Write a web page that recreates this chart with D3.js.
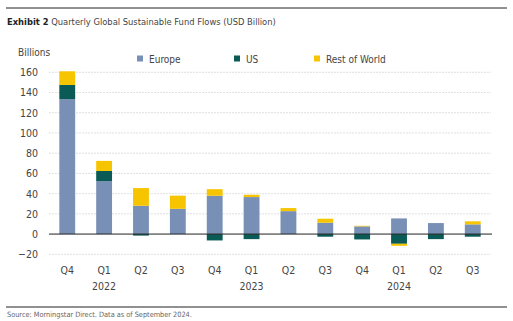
<!DOCTYPE html>
<html>
<head>
<meta charset="utf-8">
<script src="https://cdn.jsdelivr.net/npm/d3@7"></script>
<style>
  body { margin: 0; background: #fff; }
  svg text { font-family: "Liberation Sans Narrow", "Arial Narrow", "DejaVu Sans Condensed", sans-serif; fill: #444; }
</style>
</head>
<body>
<svg id="chart" width="513" height="321"></svg>
<script>
const quarters = ['Q4', 'Q1', 'Q2', 'Q3', 'Q4', 'Q1', 'Q2', 'Q3', 'Q4', 'Q1', 'Q2', 'Q3'];
const years = ['', '2022', '', '', '', '2023', '', '', '', '2024', '', ''];
const europe = [133.5, 52.4, 28, 25, 37.9, 36.6, 22.7, 11.2, 7.6, 15.5, 10.9, 9.6];
const us = [14, 10, -1.5, 0, -6.3, -5, 0, -2.6, -5.3, -9.6, -5, -2.6];
const rest = [13.5, 10, 17.5, 13, 6.5, 2.3, 3, 4, 0.6, -2, 0, 3];
const seriesNames = ['Europe', 'US', 'Rest of World'];
const yTicks = [-20, 0, 20, 40, 60, 80, 100, 120, 140, 160];

const colors = d3.scaleOrdinal()
  .domain(seriesNames)
  .range(['#7990b6', '#0a5a55', '#f7c400']);

const svg = d3.select('#chart');
const m = {l: 49, r: 22};
const W = 513;

const rows = quarters.map((q, i) => ({
  key: i,
  'Europe': europe[i],
  'US': us[i],
  'Rest of World': rest[i]
}));

const x = d3.scaleBand()
  .domain(d3.range(quarters.length))
  .range([m.l, W - m.r])
  .paddingInner(0.57)
  .paddingOuter(0.28);

// -20 sits on the bottom gridline, 160 on the top one
const y = d3.scaleLinear().domain([-20, 160]).range([254.3, 72.3]);

// top rule + title
svg.append('line').attr('x1', 6).attr('x2', 507).attr('y1', 8).attr('y2', 8)
  .attr('stroke', '#222').attr('stroke-width', 1);
const title = svg.append('text').attr('x', 7).attr('y', 25).style('font-size', '9.3px');
title.append('tspan').attr('font-weight', 'bold').style('fill', '#222').text('Exhibit 2');
title.append('tspan').text(' Quarterly Global Sustainable Fund Flows (USD Billion)');

svg.append('text').attr('x', 18).attr('y', 56).style('font-size', '10px').text('Billions');

// grid
svg.append('g').selectAll('line').data(yTicks.filter(t => t !== 0))
  .join('line')
  .attr('x1', m.l).attr('x2', W - m.r)
  .attr('y1', d => y(d)).attr('y2', d => y(d))
  .attr('stroke', '#d8d8d8').attr('stroke-width', 0.8)
  .attr('stroke-dasharray', '2,1');

// y axis labels
const yAxis = d3.axisLeft(y).tickValues(yTicks).tickSize(0).tickPadding(0);
svg.append('g').attr('transform', `translate(38,0)`).call(yAxis)
  .call(g => g.select('.domain').remove())
  .selectAll('text').style('font-size', '10.5px').style('fill', '#444');

// stacked bars, negatives stack downwards
const stack = d3.stack().keys(seriesNames).offset(d3.stackOffsetDiverging);
const layers = stack(rows);

svg.append('g').selectAll('g').data(layers)
  .join('g')
  .attr('fill', d => colors(d.key))
  .selectAll('rect').data(d => d)
  .join('rect')
  .attr('x', (d, i) => x(i))
  .attr('width', x.bandwidth())
  .attr('y', d => y(Math.max(d[0], d[1])))
  .attr('height', d => Math.abs(y(d[0]) - y(d[1])));

// zero line
svg.append('line').attr('x1', m.l).attr('x2', W - m.r + 1)
  .attr('y1', y(0)).attr('y2', y(0))
  .attr('stroke', '#222').attr('stroke-width', 1);

// x axis labels
const xAxis = d3.axisBottom(x).tickFormat(i => quarters[i]).tickSize(0).tickPadding(0);
svg.append('g').attr('transform', `translate(0,267)`).call(xAxis)
  .call(g => g.select('.domain').remove())
  .selectAll('text').style('font-size', '10.5px').style('fill', '#444');

svg.append('g').selectAll('text').data(years.map((t, i) => [t, i]).filter(d => d[0]))
  .join('text')
  .attr('x', d => x(d[1]) + x.bandwidth() / 2)
  .attr('y', 290)
  .attr('text-anchor', 'middle')
  .style('font-size', '10.5px')
  .text(d => d[0]);

// legend
const legendX = [137, 234, 314];
const lg = svg.append('g').selectAll('g').data(seriesNames)
  .join('g')
  .attr('transform', (d, i) => `translate(${legendX[i]},56)`);
lg.append('rect').attr('width', 6).attr('height', 6).attr('y', -0.5).attr('fill', d => colors(d));
lg.append('text').attr('x', 12).attr('y', 7).style('font-size', '10px').text(d => d);

// bottom rule + source
svg.append('line').attr('x1', 6).attr('x2', 507).attr('y1', 307).attr('y2', 307)
  .attr('stroke', '#222').attr('stroke-width', 1);
svg.append('text').attr('x', 7).attr('y', 317).style('font-size', '7.3px').style('fill', '#666')
  .text('Source: Morningstar Direct. Data as of September 2024.');
</script>
</body>
</html>
